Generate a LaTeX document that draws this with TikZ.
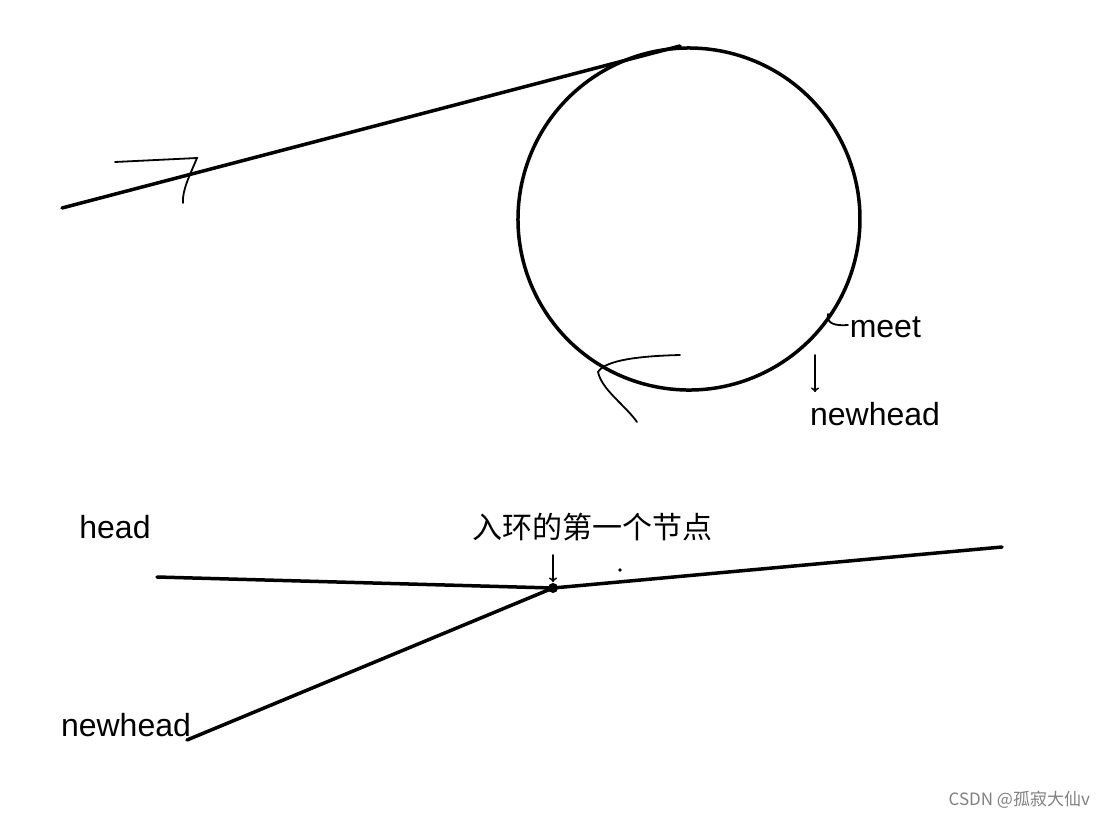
\documentclass[tikz,border=0pt]{standalone}
\usepackage{fontspec}
\setmainfont{Liberation Sans}
\newfontfamily\cjk{Noto Sans CJK SC}
\usetikzlibrary{positioning}
\begin{document}
\begin{tikzpicture}[x=1pt,y=-1pt,line width=3.5pt,line cap=round,
    lbl/.style={font=\fontsize{32}{36}\selectfont,inner sep=0pt},
    pen/.style={line width=1.8pt}]
\useasboundingbox (0,0) rectangle (1105,817);
% upper picture
\coordinate (tail) at (62,208);
\coordinate (touch) at (680,46);
\coordinate (c) at (689,219);
\draw (tail) -- (touch);
\draw ([shift={(-33:171)}]c) arc[start angle=-33,end angle=-408,radius=171];
\draw[pen] (115,162) -- (197,158) .. controls (190,175) and (182,190) .. (183,203);
\draw[pen] (680,355) .. controls (640,356) and (605,360) .. (598,372) .. controls (602,390) and (625,405) .. (637,422);
\draw[pen] (828,314) .. controls (826,324) and (836,326) .. (848,325);
\node[lbl,anchor=west] (meet) at (848,327) {meet};
\node[lbl] (newhead1) at (875,414) {newhead};
\coordinate (m) at (815,355);
\draw[pen,->] (m) -- (815,392);
% lower picture
\node[lbl] (head) at (115,527) {head};
\node[lbl] (newhead2) at (126,725) {newhead};
\node[lbl,font=\cjk\fontsize{30}{34}\selectfont] (entry) at (592,527) {入环的第一个节点};
\coordinate (h) at (157,577);
\coordinate (x) at (553,588);
\coordinate (e) at (1002,547);
\coordinate (n) at (187,740);
\draw (h) -- (x) -- (e);
\draw (n) -- (x);
\draw[pen,->] (553,555) -- (553,582);
\fill (x) circle (5);
\fill (620,570) circle (1.8);
\node[font=\cjk\fontsize{17}{19}\selectfont,text=gray,anchor=east] (mark) at (1095,800) {CSDN @孤寂大仙v};
\end{tikzpicture}
\end{document}
